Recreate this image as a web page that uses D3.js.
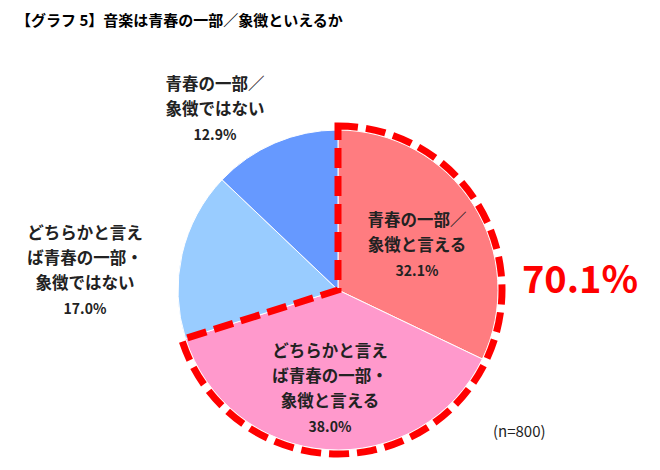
<!DOCTYPE html><html><head><meta charset="utf-8"><script src="https://cdn.jsdelivr.net/npm/d3@7"></script>
<style>body{margin:0;background:#fff}text{font-family:"Noto Sans CJK JP",sans-serif}</style></head><body>
<svg id="c" width="660" height="470"></svg>
<script>
const categories=["青春の一部／\n象徴と言える","どちらかと言え\nば青春の一部・\n象徴と言える","どちらかと言え\nば青春の一部・\n象徴ではない","青春の一部／\n象徴ではない"];
const values=[32.1,38.0,17.0,12.9];
const colors=["#FF7C80","#FF99CC","#99CCFF","#6699FF"];
const total="70.1%";
const svg=d3.select("#c");
const cx=338,cy=290,R=160;
svg.append("text").attr("x",16).attr("y",26).attr("font-size",15).attr("font-weight","bold").text("【グラフ 5】音楽は青春の一部／象徴といえるか");
const g=svg.append("g").attr("transform",`translate(${cx},${cy})`);
const pie=d3.pie().sort(null).value(d=>d)(values);
const arc=d3.arc().innerRadius(0).outerRadius(R);
g.selectAll("path.s").data(pie).join("path").attr("d",arc).attr("fill",(d,i)=>colors[i]).attr("stroke","#fff").attr("stroke-width",1);
const a1=pie[1].endAngle;
const outline=d3.arc().innerRadius(0).outerRadius(R+4)({startAngle:0,endAngle:a1});
g.append("path").attr("d",outline).attr("fill","none").attr("stroke","#FF0000").attr("stroke-width",7).attr("stroke-dasharray","20,8").attr("stroke-linejoin","miter");
const lp=[[79,-64],[-8,67],[-253,-51],[-123,-200]];
pie.forEach((d,i)=>{
  const lines=categories[i].split("\n").concat([values[i].toFixed(1)+"%"]);
  const t=g.append("text").attr("text-anchor","middle").attr("font-weight","bold").attr("fill","#222");
  lines.forEach((l,j)=>t.append("tspan").attr("x",lp[i][0]).attr("y",lp[i][1]+j*25).attr("font-size",j==lines.length-1?14:16.5).text(l));
});
svg.append("text").attr("x",580).attr("y",293).attr("text-anchor","middle").attr("font-size",38).attr("font-weight","bold").attr("fill","#FF0000").attr("font-family","Liberation Sans, Arial").text(total);
svg.append("text").attr("x",493).attr("y",437).attr("font-size",15).attr("fill","#222").text("(n=800)");
</script></body></html>
